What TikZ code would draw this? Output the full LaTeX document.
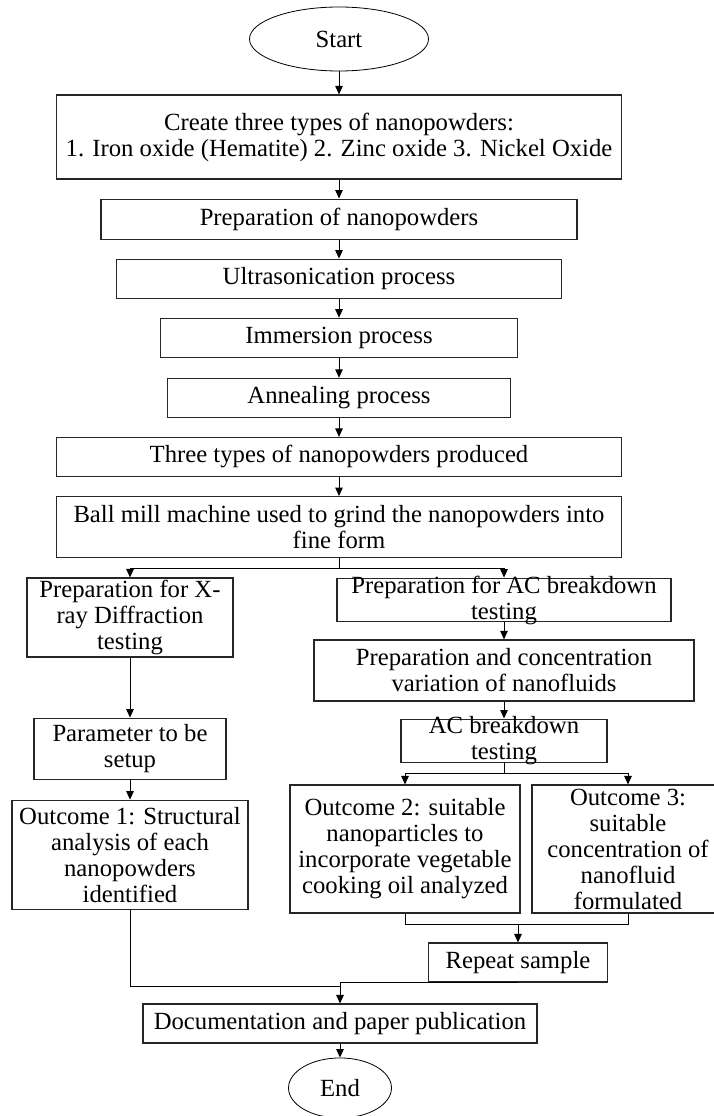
\documentclass[tikz,border=0pt]{standalone}
\usepackage{fontspec}
\setmainfont{Liberation Serif}
\usetikzlibrary{shapes,positioning,arrows.meta,calc}

\begin{document}
\begin{tikzpicture}[
    x=1pt, y=1pt,
    node distance=19pt,
    box/.style ={
        rectangle,
        draw=black!85,
        line width=1.1pt,
        align=center,
        inner sep=0pt,
        font=\fontsize{24.7}{26}\selectfont
    },
    term/.style ={
        ellipse,
        draw=black,
        line width=0.8pt,
        inner sep=0pt,
        font=\fontsize{24.7}{26}\selectfont
    },
    tight/.style ={
        inner ysep=-2.5pt
    },
    arr/.style ={
        line width=1pt,
        -{Triangle[length=8.5pt,width=7.5pt]}
    }
    ]

    \useasboundingbox (0,0) rectangle (714,-1116);
    \clip (0,0) rectangle (714,-1116);

    % main column
    \node[term, minimum width=179pt, minimum height=64pt] (start) at (339,-39) {Start};
    \node[box, minimum width=565pt, minimum height=84pt] (create) [below=23pt of start] {Create three types of nanopowders:\\ 1. Iron oxide (Hematite) 2. Zinc oxide 3. Nickel Oxide};
    \node[box, minimum width=476pt, minimum height=40pt] (prep) [below=of create] {Preparation of nanopowders};
    \node[box, minimum width=445pt, minimum height=39pt] (ultra) [below=of prep] {Ultrasonication process};
    \node[box, minimum width=357pt, minimum height=39pt] (immer) [below=of ultra] {Immersion process};
    \node[box, minimum width=343pt, minimum height=39pt] (anneal) [below=20pt of immer] {Annealing process};
    \node[box, minimum width=565pt, minimum height=39pt] (three) [below=of anneal] {Three types of nanopowders produced};
    \node[box, minimum width=565pt, minimum height=61pt] (ball) [below=of three] {Ball mill machine used to grind the nanopowders into\\fine form};

    % left branch
    \node[box, minimum width=206pt, minimum height=79pt] (xray) at (130,-617.5) {Preparation for X-\\ray Diffraction\\testing};
    \node[box, minimum width=192pt, minimum height=61pt] (param) [below=60pt of xray] {Parameter to be\\setup};
    \node[box, minimum width=236pt, minimum height=109pt] (out1) [below=20pt of param] {Outcome 1: Structural\\analysis of each\\nanopowders\\identified};

    % right branch
    \node[box, tight, minimum width=334pt] (acprep) at (504,-600) {Preparation for AC breakdown\\testing};
    \node[box, minimum width=380pt, minimum height=61pt] (conc) [below=17pt of acprep] {Preparation and concentration\\variation of nanofluids};
    \node[box, tight, minimum width=206pt] (actest) [below=17pt of conc] {AC breakdown\\testing};
    \node[box, minimum width=230pt, minimum height=128pt] (out2) at (405,-849) {Outcome 2: suitable\\nanoparticles to\\incorporate vegetable\\cooking oil analyzed};
    \node[box, minimum width=192pt, minimum height=128pt] (out3) at (628,-849) {Outcome 3:\\suitable\\concentration of\\nanofluid\\formulated};
    \node[box, minimum width=179pt, minimum height=39pt] (rep) at (518,-962.5) {Repeat sample};

    % end
    \node[box, minimum width=394pt, minimum height=39pt] (doc) at (340,-1023.5) {Documentation and paper publication};
    \node[term, minimum width=103pt, minimum height=60pt] (stop) [below=14pt of doc] {End};

    \coordinate (fork1) at ($(ball.south)+(0,-10)$);
    \coordinate (fork2) at ($(actest.south)+(0,-10)$);
    \coordinate (join1) at ($(rep.north)+(0,18)$);
    \coordinate (join2) at ($(doc.north)+(0,17)$);

    \foreach \src/\dst in {start/create, create/prep, prep/ultra, ultra/immer, immer/anneal, anneal/three, three/ball, xray/param, param/out1, acprep/conc, conc/actest, join1/rep, doc/stop}
        \draw[arr] (\src) -- (\dst);

    \draw[line width=1pt] (ball.south) -- (fork1);
    \draw[arr] (fork1) -| (xray.north);
    \draw[arr] (fork1) -| (acprep.north);
    \draw[line width=1pt] (actest.south) -- (fork2);
    \draw[arr] (fork2) -| (out2.north);
    \draw[arr] (fork2) -| (out3.north);
    \draw[line width=1pt] (out2.south) |- (join1) -| (out3.south);
    \draw[arr] (rep.south) -| (doc.north);
    \draw[line width=1pt] (out1.south) |- (join2);
\end{tikzpicture}
\end{document}
